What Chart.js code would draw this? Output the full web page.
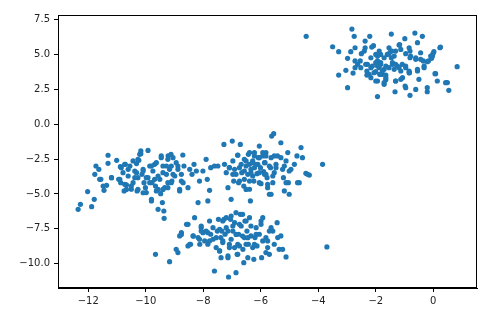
<!DOCTYPE html>
<html>
<head>
<meta charset="utf-8">
<script src="https://cdn.jsdelivr.net/npm/chart.js@4"></script>
<style>
  html, body { margin: 0; padding: 0; background: #fff; }
  #chart { display: block; }
</style>
</head>
<body>
<canvas id="chart" width="503" height="314"></canvas>
<script>
// points, one list of [x, y] pairs per blob
const topRight = [
  [-4.42, 6.32], [-3.50, 5.57], [-3.29, 5.22], [-2.83, 6.84], [-2.75, 6.32], [-2.21, 6.32],
  [-1.46, 6.48], [-0.99, 6.15], [-0.64, 6.55], [-0.38, 6.32], [-0.55, 5.86], [-1.17, 5.72],
  [-2.37, 5.98], [-2.08, 5.65], [-2.72, 5.50], [-2.50, 5.07], [-2.87, 5.22], [-2.98, 4.74],
  [-3.04, 3.88], [-3.29, 3.54], [-2.98, 2.63], [-2.79, 3.68], [-2.72, 4.07], [-2.72, 4.55],
  [-2.35, 4.31], [-2.31, 3.83], [-2.17, 3.35], [-2.31, 3.54], [-1.94, 3.11], [-1.94, 1.99],
  [-1.77, 3.59], [-1.71, 2.87], [-1.65, 3.21], [-1.33, 2.34], [-1.31, 3.11], [-1.13, 3.23],
  [-0.98, 2.75], [-0.81, 2.08], [-0.83, 3.71], [-0.50, 3.23], [-0.21, 2.34], [0.06, 3.64],
  [0.14, 3.11], [0.49, 3.00], [0.54, 2.44], [0.83, 4.14], [0.23, 5.50], [-0.01, 5.07],
  [-0.06, 4.74], [-0.17, 4.55], [-0.35, 4.55], [-0.32, 4.07], [-0.55, 3.83], [-0.61, 4.67],
  [-0.81, 4.78], [-0.81, 5.26], [-0.96, 5.07], [-1.13, 5.38], [-1.31, 5.26], [-1.48, 5.26],
  [-1.60, 5.02], [-1.46, 4.78], [-1.42, 4.31], [-1.25, 4.19], [-1.08, 4.31], [-0.96, 4.07],
  [-0.84, 3.83], [-1.13, 3.83], [-1.36, 3.95], [-1.54, 4.07], [-1.71, 3.95], [-1.83, 4.31],
  [-1.94, 4.55], [-2.00, 5.02], [-1.83, 5.02], [-1.71, 4.78], [-1.88, 4.07], [-2.00, 3.78],
  [-1.85, 3.59], [-1.65, 3.54], [-1.65, 4.19], [-2.12, 4.19], [-2.06, 3.71], [-2.52, 4.07],
  [-2.40, 5.26], [-2.17, 4.78], [-2.54, 4.55], [-0.44, 5.14], [-0.09, 4.90], [0.02, 5.22],
  [-2.37, 5.50], [-2.14, 5.55], [-1.88, 5.26], [-1.94, 4.90], [-1.54, 5.50], [-1.44, 5.26],
  [-1.54, 5.07], [-1.36, 4.90], [-1.19, 5.69], [-0.84, 5.50], [-0.79, 4.90], [-0.61, 4.78],
  [-0.44, 4.67], [-0.21, 4.50], [-0.03, 4.90], [0.25, 5.55], [-2.29, 4.31], [-2.17, 4.07],
  [-2.00, 4.43], [-1.94, 4.19], [-1.83, 4.43], [-1.77, 3.83], [-1.86, 3.59], [-1.65, 3.35],
  [-1.71, 2.99], [-2.23, 3.59], [-2.00, 3.11], [-1.42, 4.43], [-1.31, 4.31], [-1.19, 4.07],
  [-1.31, 3.11], [-1.07, 3.35], [-0.96, 4.19], [-0.84, 3.70], [-0.55, 3.95], [-0.32, 4.19],
  [0.08, 3.64], [-0.21, 2.63], [0.43, 2.99], [-0.61, 2.51], [-0.96, 2.63], [-2.63, 4.31]
];

const leftBlob = [
  [-12.35, -6.10], [-12.27, -5.74], [-12.02, -4.83], [-11.88, -5.91], [-11.79, -5.38], [-11.77, -3.59],
  [-11.73, -2.99], [-11.63, -3.23], [-11.56, -3.95], [-11.45, -4.74], [-11.36, -4.38], [-11.31, -2.22],
  [-11.31, -2.80], [-11.19, -3.83], [-11.01, -2.58], [-10.94, -3.95], [-10.88, -3.04], [-10.87, -4.19],
  [-10.79, -3.47], [-10.75, -4.78], [-10.71, -2.87], [-10.67, -4.35], [-10.61, -3.71], [-10.55, -2.99],
  [-10.50, -4.66], [-10.44, -4.19], [-10.38, -3.35], [-10.32, -2.82], [-10.30, -4.78], [-10.27, -3.83],
  [-10.24, -2.58], [-10.17, -2.11], [-10.17, -1.91], [-10.13, -3.59], [-10.09, -3.23], [-10.06, -4.19],
  [-10.01, -4.55], [-9.98, -4.90], [-9.92, -1.87], [-9.92, -3.83], [-9.86, -2.99], [-9.80, -5.50],
  [-9.78, -4.19], [-9.75, -3.35], [-9.69, -2.87], [-9.66, -4.43], [-9.63, -4.78], [-9.57, -6.10],
  [-9.51, -3.95], [-9.48, -4.98], [-9.46, -2.27], [-9.42, -5.62], [-9.40, -2.99], [-9.37, -6.22],
  [-9.36, -6.75], [-9.34, -4.55], [-9.28, -3.59], [-9.23, -4.19], [-9.23, -2.51], [-9.17, -3.23],
  [-9.12, -2.15], [-9.09, -4.07], [-9.05, -2.39], [-8.99, -3.71], [-8.88, -2.99], [-8.82, -4.78],
  [-8.76, -4.07], [-8.71, -2.20], [-8.67, -2.99], [-8.53, -4.55], [-8.47, -3.23], [-8.39, -3.59],
  [-8.32, -2.87], [-8.24, -3.35], [-8.18, -5.62], [-8.13, -4.07], [-8.01, -3.35], [-7.90, -2.51],
  [-7.86, -3.95], [-7.84, -5.50], [-7.78, -4.74], [-7.74, -3.11], [-7.61, -2.99],
  [-10.85, -3.11], [-10.73, -2.87], [-10.61, -3.23], [-10.44, -2.63], [-10.27, -2.51], [-10.21, -2.15],
  [-10.32, -3.47], [-10.38, -3.83], [-10.09, -3.35], [-9.98, -3.83], [-9.80, -2.99], [-9.69, -3.95],
  [-9.63, -2.75], [-9.46, -2.39], [-9.22, -2.27], [-9.28, -2.99], [-9.11, -2.99], [-8.94, -2.75],
  [-8.88, -3.23], [-8.76, -3.59], [-9.05, -3.59], [-9.40, -3.47], [-9.57, -3.71], [-9.86, -4.19],
  [-9.57, -4.67], [-9.40, -4.67], [-9.23, -4.55], [-9.11, -4.19], [-8.82, -4.67], [-8.70, -4.19],
  [-11.60, -3.95], [-11.48, -4.43], [-11.19, -3.83], [-10.90, -3.95], [-10.73, -4.31], [-10.67, -4.67],
  [-10.50, -4.43], [-10.27, -4.67], [-10.09, -4.91], [-9.80, -5.38]
];

const middleBlob = [
  [-7.49, -2.99], [-7.28, -1.44], [-7.26, -2.87], [-7.20, -3.47], [-7.14, -4.55], [-7.09, -3.11],
  [-7.03, -5.38], [-6.99, -1.20], [-6.97, -2.63], [-6.94, -4.07], [-6.91, -3.23], [-6.86, -3.59],
  [-6.80, -2.22], [-6.77, -4.19], [-6.71, -1.44], [-6.68, -2.87], [-6.66, -3.47], [-6.59, -4.43],
  [-6.57, -2.51], [-6.51, -2.99], [-6.45, -3.59], [-6.43, -2.15], [-6.39, -4.66], [-6.36, -5.50],
  [-6.34, -3.23], [-6.28, -2.63], [-6.24, -4.07], [-6.22, -2.03], [-6.16, -2.87], [-6.13, -3.54],
  [-6.08, -2.39], [-6.05, -1.56], [-6.01, -3.11], [-5.99, -4.26], [-5.93, -2.27], [-5.90, -3.40],
  [-5.85, -2.75], [-5.82, -2.03], [-5.78, -3.83], [-5.76, -4.55], [-5.70, -5.02], [-5.66, -3.11],
  [-5.64, -2.39], [-5.62, -0.84], [-5.58, -4.19], [-5.55, -0.67], [-5.53, -3.47], [-5.47, -2.87],
  [-5.42, -2.27], [-5.30, -1.32], [-5.24, -3.23], [-5.21, -3.83], [-5.18, -4.78], [-5.12, -2.63],
  [-5.06, -2.03], [-5.04, -4.19], [-5.01, -5.02], [-4.95, -3.23], [-4.83, -2.87], [-4.74, -2.27],
  [-4.66, -4.19], [-4.60, -1.67], [-4.55, -2.39], [-4.43, -3.52], [-4.31, -3.64], [-3.85, -2.87],
  [-6.22, -3.11], [-6.39, -2.87], [-5.87, -3.59], [-6.28, -3.71], [-6.57, -3.95],
  [-6.80, -2.20], [-6.39, -2.03], [-6.22, -2.27], [-5.93, -2.03], [-5.82, -2.27], [-6.05, -2.39],
  [-5.53, -2.27], [-5.30, -2.39], [-6.51, -2.63], [-6.28, -2.75], [-6.10, -2.87], [-5.87, -2.75],
  [-5.70, -2.99], [-5.47, -3.11], [-5.18, -2.99], [-5.01, -3.35], [-6.74, -3.11], [-6.57, -3.35],
  [-6.34, -3.47], [-6.05, -3.47], [-5.82, -3.59], [-5.58, -3.71], [-6.97, -3.59], [-7.09, -3.11],
  [-6.74, -4.07], [-6.39, -4.07], [-6.05, -4.19], [-5.76, -4.31], [-5.12, -4.19], [-4.72, -4.19],
  [-4.37, -3.59], [-5.64, -5.02], [-6.51, -4.67]
];

const bottomBlob = [
  [-9.66, -9.33], [-9.17, -9.86], [-8.94, -8.97], [-8.88, -9.21], [-8.82, -8.01], [-8.76, -7.78],
  [-8.58, -7.18], [-8.53, -8.73], [-8.44, -8.61], [-8.35, -8.01], [-8.30, -6.70], [-8.18, -8.13],
  [-8.12, -8.61], [-8.07, -7.42], [-8.01, -7.78], [-7.95, -8.37], [-7.90, -7.66], [-7.84, -8.61],
  [-7.78, -6.94], [-7.74, -7.89], [-7.66, -8.25], [-7.61, -10.53], [-7.55, -8.85], [-7.51, -7.66],
  [-7.47, -6.82], [-7.43, -9.09], [-7.39, -8.13], [-7.38, -9.57], [-7.35, -7.66], [-7.32, -8.49],
  [-7.28, -6.82], [-7.24, -7.89], [-7.20, -7.42], [-7.14, -9.57], [-7.12, -10.96], [-7.09, -8.85],
  [-7.05, -6.82], [-7.03, -8.25], [-6.97, -7.66], [-6.91, -7.06], [-6.86, -10.65], [-6.82, -9.33],
  [-6.80, -8.61], [-6.77, -7.89], [-6.71, -6.46], [-6.68, -7.30], [-6.62, -8.97], [-6.59, -9.93],
  [-6.57, -8.13], [-6.55, -6.94], [-6.48, -7.66], [-6.43, -8.61], [-6.39, -6.70], [-6.34, -8.01],
  [-6.28, -8.85], [-6.24, -9.69], [-6.20, -8.13], [-6.16, -7.42], [-6.13, -8.73], [-6.05, -7.89],
  [-5.99, -6.94], [-5.97, -9.57], [-5.93, -8.37], [-5.82, -8.13], [-5.76, -8.85], [-5.70, -9.33],
  [-5.64, -7.42], [-5.58, -7.66], [-5.53, -8.61], [-5.43, -7.06], [-5.41, -8.13], [-5.36, -8.97],
  [-5.30, -8.01], [-5.24, -8.97], [-5.12, -9.52], [-3.70, -8.80], [-6.91, -8.85],
  [-8.53, -7.18], [-8.76, -7.90], [-8.07, -7.30], [-8.07, -7.66], [-7.84, -7.78], [-7.66, -7.42],
  [-7.43, -7.54], [-7.32, -6.94], [-7.20, -6.70], [-7.03, -6.58], [-6.86, -6.34], [-6.63, -6.46],
  [-6.51, -6.94], [-6.34, -7.30], [-6.74, -7.18], [-6.97, -7.30], [-7.14, -7.66], [-6.86, -7.90],
  [-6.63, -8.02], [-6.45, -8.14], [-6.16, -7.90], [-5.99, -7.18], [-5.93, -6.70], [-6.22, -8.61],
  [-6.51, -8.61], [-6.74, -8.73], [-7.09, -8.61], [-7.32, -8.37], [-7.55, -8.14], [-7.78, -8.37],
  [-8.13, -8.25], [-8.35, -8.02], [-8.47, -8.61], [-7.43, -9.09], [-7.14, -9.45], [-6.80, -9.33],
  [-5.76, -8.37], [-5.70, -7.66], [-5.82, -9.21], [-6.45, -9.57]
];

const xTicks = [-12, -10, -8, -6, -4, -2, 0];
const yTicks = [-10, -7.5, -5, -2.5, 0, 2.5, 5, 7.5];

const toXY = p => ({ x: p[0], y: p[1] });
const allPoints = [...topRight, ...leftBlob, ...middleBlob, ...bottomBlob].map(toXY);

const minus = s => s.replace('-', '\u2212');

// top and right spines, matplotlib style box
const boxPlugin = {
  id: 'box',
  afterDraw(chart) {
    const { ctx, chartArea: a } = chart;
    ctx.save();
    ctx.strokeStyle = '#000';
    ctx.lineWidth = 1;
    ctx.strokeRect(a.left + 0.5, a.top + 0.5, a.right - a.left - 1, a.bottom - a.top - 1);
    ctx.restore();
  }
};

const tickFont = { family: 'DejaVu Sans', size: 10 };

new Chart(document.getElementById('chart'), {
  type: 'scatter',
  data: {
    datasets: [{
      data: allPoints,
      backgroundColor: '#1f77b4',
      borderWidth: 0,
      pointRadius: 2.6
    }]
  },
  options: {
    responsive: false,
    animation: false,
    layout: { padding: { top: 15, right: 26, left: 0, bottom: 0 } },
    plugins: { legend: { display: false }, tooltip: { enabled: false } },
    scales: {
      x: {
        type: 'linear',
        min: -13.05,
        max: 1.52,
        afterBuildTicks: s => { s.ticks = xTicks.map(v => ({ value: v })); },
        afterFit: s => { s.height = 26; },
        ticks: {
          color: '#222',
          font: tickFont,
          padding: 3,
          maxRotation: 0,
          callback: v => minus(String(v))
        },
        grid: { drawOnChartArea: false, drawTicks: true, tickLength: 4, color: '#000' },
        border: { display: true, color: '#000' }
      },
      y: {
        type: 'linear',
        min: -11.75,
        max: 7.85,
        afterBuildTicks: s => { s.ticks = yTicks.map(v => ({ value: v })); },
        afterFit: s => { s.width = 58; },
        ticks: {
          color: '#222',
          font: tickFont,
          padding: 4,
          callback: v => minus(Number(v).toFixed(1))
        },
        grid: { drawOnChartArea: false, drawTicks: true, tickLength: 4, color: '#000' },
        border: { display: true, color: '#000' }
      }
    }
  },
  plugins: [boxPlugin]
});
</script>
</body>
</html>
